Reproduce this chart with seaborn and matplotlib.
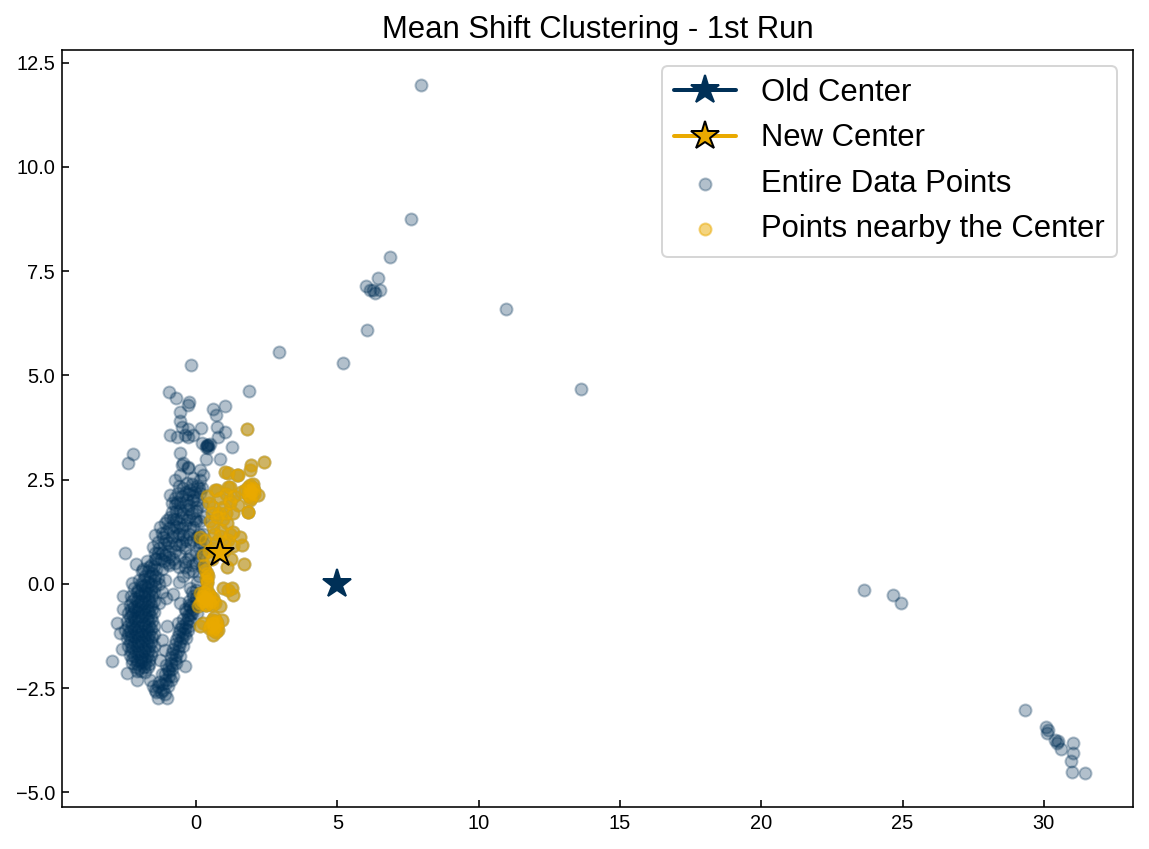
import numpy as np
import pandas as pd
import matplotlib
matplotlib.use("Agg")
import matplotlib.pyplot as plt
import seaborn as sns

NAVY = "#003057"
GOLD = "#EAAA00"

# centers
old_center = (5.0, 0.0)
new_center = (0.86, 0.73)

# far away points (dark)
far_points = [
    (7.96, 11.96), (7.6, 8.75), (6.86, 7.84), (6.44, 7.34), (6.01, 7.14), (6.15, 7.05),
    (6.33, 6.97), (6.51, 7.05), (6.26, 7.05), (6.05, 6.09), (10.97, 6.59), (13.62, 4.68),
    (2.94, 5.56), (5.2, 5.3), (-0.17, 5.25), (1.89, 4.63),
    (23.63, -0.14), (24.65, -0.26), (24.94, -0.46),
    (29.33, -3.02), (30.07, -3.43), (30.1, -3.57), (30.15, -3.5), (30.39, -3.74),
    (30.45, -3.81), (30.5, -3.76), (30.6, -3.96), (31.03, -3.81), (31.03, -4.05),
    (30.95, -4.24), (30.98, -4.51), (31.45, -4.53),
]

# sparse points above the cluster (dark)
upper_sparse = [
    (-0.96, 4.59), (-0.71, 4.45), (-0.24, 4.37), (-0.27, 4.29), (0.59, 4.2), (1.03, 4.27),
    (0.71, 4.05), (-0.55, 4.12), (-0.57, 3.91), (-0.49, 3.75), (-0.27, 3.72), (0.18, 3.74),
    (0.73, 3.77), (-0.92, 3.57), (-0.66, 3.52), (-0.39, 3.57), (-0.27, 3.52), (1.03, 3.64),
    (0.79, 3.52), (0.2, 3.37), (0.44, 3.32), (0.4, 3.3), (0.48, 3.35), (0.36, 3.28),
    (0.38, 3.33), (0.42, 3.27), (1.26, 3.28), (-2.24, 3.11), (-2.39, 2.89), (-0.57, 3.15),
    (0.85, 2.99), (0.35, 3.0), (-0.51, 2.85), (-0.27, 2.81), (-0.09, 3.57),
]

# upper stream (dark)
upper_stream = [
    (-1.51, 0.89), (-1.33, 0.74), (-1.45, 1.17), (-1.27, 1.37), (-1.16, 1.13), (-1.04, 1.53),
    (-0.86, 1.73), (-0.68, 1.97), (-0.92, 2.13), (-0.74, 2.49), (-0.86, 1.13), (-0.51, 1.33),
    (-1.33, 1.01), (-0.98, 0.98), (-0.57, 0.94), (-1.21, 1.22), (-0.45, 1.17), (-1.1, 1.45),
    (-0.68, 1.37), (-0.09, 1.37), (-0.92, 1.61), (-0.33, 1.53), (-0.57, 1.77), (0.02, 1.85),
    (-0.86, 1.93), (-0.33, 2.01), (0.14, 2.17), (-0.63, 2.17), (-0.21, 2.25), (-0.33, 2.41),
    (0.14, 2.49), (-0.46, 2.9), (-0.28, 2.78), (0.14, 2.73), (0.02, 1.13), (-1.4, 0.6),
    (-1.2, 0.75), (-1.0, 0.8), (-0.75, 0.8), (-0.4, 0.85), (-0.2, 1.0), (0.1, 0.9),
    (0.15, 1.5), (-0.15, 1.7), (-0.5, 1.6), (-0.7, 1.55), (-0.4, 1.9), (-0.1, 2.0),
    (0.2, 2.3), (-0.45, 2.3), (-0.1, 2.55), (0.25, 2.6), (0.05, 2.35), (-0.55, 2.6),
    (0.2, 1.9), (0.25, 1.2), (0.3, 1.6), (0.3, 0.95), (0.1, 0.6), (-0.25, 1.2),
    (-0.6, 1.2), (-0.8, 1.4), (-0.3, 1.8), (-0.05, 2.2), (-0.75, 2.05), (-1.05, 1.25),
]

# dense core of the upper stream (dark)
upper_core = [
    (-1.45, 0.75), (-1.3, 0.85), (-1.15, 0.95), (-1.25, 0.6), (-1.1, 0.7), (-0.95, 0.65),
    (-1.05, 1.05), (-0.9, 0.9), (-0.7, 0.95), (-0.95, 1.35), (-0.8, 1.25), (-0.65, 1.15),
    (-0.5, 1.0), (-0.35, 1.05), (-0.8, 1.55), (-0.6, 1.45), (-0.4, 1.4), (-0.2, 1.35),
    (-0.7, 1.75), (-0.45, 1.7), (-0.25, 1.6), (-0.05, 1.55), (-0.75, 1.9), (-0.55, 1.95),
    (-0.25, 1.9), (0.0, 1.75), (-0.5, 2.1), (-0.3, 2.15), (-0.1, 2.1), (0.05, 2.0),
    (-0.6, 2.35), (-0.35, 2.2), (-0.15, 2.4), (0.1, 2.3), (0.0, 1.5), (0.1, 1.2),
    (-0.1, 1.05), (0.15, 1.0), (0.2, 0.75), (0.0, 0.75), (-0.3, 0.6), (-0.55, 0.7),
    (-0.75, 0.5), (-1.0, 0.5), (-0.4, 0.4), (-0.15, 0.45), (0.1, 0.2), (0.2, 0.4), (0.05, 0.05),
]

# middle part between the bands (dark)
middle_part = [
    (-1.2, -0.2), (-1.05, -0.35), (-0.8, -0.25), (-1.3, 0.0), (-1.1, 0.1), (-0.6, 0.05),
    (-0.45, 0.2), (-0.27, 0.29), (-0.39, 0.53), (-0.6, 0.4), (-0.1, 0.3), (0.0, 0.5),
    (-0.2, 0.7), (-1.2, 0.35), (-0.95, 0.45), (-0.8, 0.6), (-1.3, -0.45), (-1.15, 0.55),
]

# main left band (dark)
left_band = [
    (-1.75, 0.55), (-1.6, 0.45), (-1.45, 0.6),
    (-1.9, 0.3), (-1.7, 0.3), (-1.55, 0.25), (-1.4, 0.35),
    (-2.0, 0.1), (-1.85, 0.12), (-1.7, 0.05), (-1.5, 0.1), (-1.35, 0.15),
    (-2.2, -0.1), (-2.05, -0.15), (-1.9, -0.05), (-1.75, -0.1), (-1.6, -0.12), (-1.45, -0.05),
    (-2.3, -0.3), (-2.15, -0.35), (-2.0, -0.3), (-1.85, -0.28), (-1.7, -0.32), (-1.55, -0.3),
    (-2.35, -0.5), (-2.2, -0.55), (-2.05, -0.5), (-1.9, -0.48), (-1.75, -0.52), (-1.6, -0.5),
    (-2.4, -0.7), (-2.25, -0.72), (-2.1, -0.68), (-1.95, -0.7), (-1.8, -0.73), (-1.65, -0.7), (-1.5, -0.68),
    (-2.45, -0.9), (-2.3, -0.92), (-2.15, -0.88), (-2.0, -0.9), (-1.85, -0.93), (-1.7, -0.9), (-1.55, -0.88),
    (-2.5, -1.1), (-2.35, -1.12), (-2.2, -1.08), (-2.05, -1.1), (-1.9, -1.13), (-1.75, -1.1), (-1.6, -1.08),
    (-2.45, -1.3), (-2.3, -1.32), (-2.15, -1.28), (-2.0, -1.3), (-1.85, -1.33), (-1.7, -1.3), (-1.55, -1.28),
    (-2.4, -1.5), (-2.25, -1.52), (-2.1, -1.48), (-1.95, -1.5), (-1.8, -1.53), (-1.65, -1.5), (-1.5, -1.5),
    (-2.35, -1.7), (-2.2, -1.72), (-2.05, -1.68), (-1.9, -1.7), (-1.75, -1.73), (-1.6, -1.7),
    (-2.25, -1.9), (-2.1, -1.92), (-1.95, -1.88), (-1.8, -1.9), (-1.65, -1.93),
    (-2.1, -2.1), (-1.95, -2.08), (-1.8, -2.12),
    (-2.51, 0.75), (-2.12, 0.48), (-1.86, 0.35), (-2.27, 0.02), (-2.57, -0.3), (-2.8, -0.94),
    (-2.69, -1.18), (-2.98, -1.84), (-2.45, -2.14), (-2.1, -2.3), (-2.62, -1.55), (-2.6, -0.6),
]

# dense core of the left band (dark)
left_core = [
    (-2.1, -0.2), (-1.95, -0.22), (-1.8, -0.2), (-1.65, -0.22), (-1.5, -0.2),
    (-2.25, -0.4), (-2.1, -0.42), (-1.95, -0.4), (-1.8, -0.4), (-1.65, -0.42), (-1.5, -0.4),
    (-2.3, -0.6), (-2.15, -0.62), (-2.0, -0.6), (-1.85, -0.6), (-1.7, -0.62), (-1.55, -0.6),
    (-2.35, -0.8), (-2.2, -0.82), (-2.05, -0.8), (-1.9, -0.8), (-1.75, -0.82), (-1.6, -0.8),
    (-2.4, -1.0), (-2.25, -1.02), (-2.1, -1.0), (-1.95, -1.0), (-1.8, -1.02), (-1.65, -1.0), (-1.5, -1.0),
    (-2.4, -1.2), (-2.25, -1.22), (-2.1, -1.2), (-1.95, -1.2), (-1.8, -1.22), (-1.65, -1.2), (-1.5, -1.2),
    (-2.35, -1.4), (-2.2, -1.42), (-2.05, -1.4), (-1.9, -1.4), (-1.75, -1.42), (-1.6, -1.4),
    (-2.3, -1.6), (-2.15, -1.62), (-2.0, -1.6), (-1.85, -1.6), (-1.7, -1.62), (-1.55, -1.6),
    (-2.25, -1.8), (-2.1, -1.82), (-1.95, -1.8), (-1.8, -1.8), (-1.65, -1.82),
    (-2.15, -2.0), (-2.0, -2.02), (-1.85, -2.0), (-1.7, -2.0),
    (-1.95, 0.0), (-1.8, -0.02), (-1.6, 0.0), (-1.8, 0.2), (-1.62, 0.18), (-1.45, 0.2),
    (-1.65, 0.4), (-1.5, 0.42),
]

# lower right band (dark)
right_band = [
    (-1.51, -2.46), (-1.33, -2.74), (-1.04, -2.74), (-1.16, -2.54), (-1.63, -2.3), (-1.3, -2.35),
    (-1.1, -2.3), (-0.9, -2.3), (-1.2, -2.15), (-0.95, -2.1), (-0.8, -2.22), (-1.05, -1.95),
    (-0.85, -1.95), (-0.7, -1.9), (-0.9, -1.75), (-0.7, -1.7), (-0.57, -1.74), (-0.8, -1.55),
    (-0.6, -1.5), (-0.45, -1.5), (-0.7, -1.35), (-0.5, -1.3), (-0.35, -1.3), (-0.6, -1.15),
    (-0.45, -1.18), (-0.3, -1.1), (-0.5, -1.0), (-0.35, -0.95), (-0.2, -0.9), (-0.63, -0.94),
    (-1.04, -1.02), (-1.21, -1.34), (-1.1, -1.58), (-1.27, -1.82), (-0.39, -1.98), (-0.3, -0.75),
    (-0.15, -0.7), (-0.4, -0.6), (-0.2, -0.55), (-0.05, -0.5), (-0.57, -0.46), (-0.25, -0.4),
    (-0.1, -0.3), (-0.21, -0.1), (0.0, -0.15), (0.05, -0.7), (-1.4, -2.6), (-1.0, -2.45),
]

# dense core of the lower right band (dark)
right_core = [
    (-1.45, -2.55), (-1.25, -2.6), (-1.1, -2.65), (-1.35, -2.45), (-1.2, -2.4), (-1.05, -2.38),
    (-0.95, -2.2), (-1.1, -2.15), (-0.85, -2.05), (-1.0, -2.05), (-0.9, -1.9), (-0.75, -1.8),
    (-0.85, -1.65), (-0.65, -1.6), (-0.75, -1.45), (-0.55, -1.4), (-0.65, -1.25), (-0.4, -1.2),
    (-0.55, -1.08), (-0.4, -1.05), (-0.25, -1.0), (-0.45, -0.85), (-0.3, -0.85), (-0.2, -0.75),
    (-0.35, -0.65), (-0.1, -0.6), (-0.25, -0.5), (-0.1, -0.45), (0.0, -0.35), (-0.15, -0.2),
]

# points nearby the new center (gold)
near_points = [
    (1.79, 3.71), (1.03, 2.69), (1.44, 2.61), (1.93, 2.85), (2.42, 2.93), (1.14, 2.33),
    (1.91, 2.37), (1.95, 2.2), (2.05, 2.15), (1.88, 2.1), (2.2, 2.13), (1.84, 2.33),
    (0.67, 2.25), (1.85, 1.72), (1.2, 2.0), (1.14, 2.65), (1.5, 2.61), (1.91, 2.73),
    (1.2, 2.33), (0.73, 2.25), (0.85, 2.05), (0.61, 1.85), (0.97, 1.85), (1.2, 1.93),
    (1.32, 1.69), (1.85, 1.73), (0.73, 1.61), (1.08, 1.46), (0.61, 1.37), (1.32, 1.25),
    (1.56, 1.13), (1.14, 1.05), (0.14, 1.13), (0.32, 1.05), (0.26, 0.7), (1.7, 0.47),
    (0.32, 0.34), (0.44, 0.18), (0.38, 0.02), (1.08, 0.41), (0.97, -0.1), (1.26, -0.1),
    (1.62, 0.94), (0.38, 0.26), (0.38, 0.06), (1.14, -0.14), (1.32, -0.26), (0.14, -0.22),
    (0.3, -0.35), (0.45, -0.4), (0.6, -0.42), (0.67, -0.46), (0.5, -0.3), (0.85, -0.54),
    (0.08, -0.54), (0.55, -0.86), (0.73, -0.94), (0.14, -1.02), (0.61, -1.22), (0.79, -1.1),
    (0.91, -0.86), (0.5, 1.5), (0.9, 1.3), (0.45, 1.95), (0.7, 1.0), (1.0, 0.8),
    (1.3, 0.9), (0.55, 0.6), (0.2, -0.4), (0.35, -0.5), (0.25, -0.95), (0.45, -1.05),
    (0.6, -0.95), (0.7, -1.15), (0.4, -0.15), (0.25, -0.3), (0.55, -0.5), (0.15, -0.45),
    (0.5, -1.0), (0.65, -0.8), (1.75, 2.25), (2.0, 2.4), (1.9, 2.0), (1.05, 2.15),
    (0.3, -0.42), (0.4, -0.35), (0.5, -0.45), (0.6, -0.35), (0.35, -0.5), (0.2, -0.3),
    (0.45, -0.25), (0.55, -0.95), (0.65, -1.05), (0.7, -0.9), (0.6, -1.1), (0.75, -1.0),
    (1.9, 2.25), (2.0, 2.3), (1.85, 2.15), (1.95, 2.05), (2.05, 2.25), (0.3, -0.2),
    (0.35, 0.15), (0.3, 0.45), (0.8, 1.7), (0.95, 1.55), (1.05, 1.7), (0.55, 1.7),
    (0.65, 1.2), (0.85, 1.15), (1.0, 1.0), (1.2, 1.2), (0.45, 0.8), (0.6, 0.85),
    (1.25, 0.6), (0.4, 2.1), (1.35, 2.1), (1.5, 1.9), (1.6, 2.2),
]

dark_all = (far_points + upper_sparse + upper_stream + upper_core + middle_part
            + left_band + left_core + right_band + right_core)
all_points = dark_all + near_points
df_all = pd.DataFrame(all_points, columns=["x", "y"])
df_near = pd.DataFrame(near_points, columns=["x", "y"])

sns.set_style("ticks", {"xtick.direction": "in", "ytick.direction": "in"})
plt.rcParams["font.family"] = ["Liberation Sans", "DejaVu Sans"]
plt.rcParams["text.color"] = "black"
plt.rcParams["xtick.color"] = "black"
plt.rcParams["ytick.color"] = "black"

fig = plt.figure(figsize=(1149 / 144, 849 / 144), dpi=144)
ax = fig.add_axes([0.054, 0.0495, 0.932, 0.8915])

ax.plot(old_center[0], old_center[1], marker="*", markersize=15, color=NAVY, lw=2,
        label="Old Center", zorder=10)
ax.plot(new_center[0], new_center[1], marker="*", markersize=15, color=GOLD, lw=2,
        markeredgecolor="black", label="New Center", zorder=10)

sns.scatterplot(data=df_all, x="x", y="y", ax=ax, color=NAVY, alpha=0.3, s=36,
                edgecolor=NAVY, linewidth=1.0, label="Entire Data Points")
sns.scatterplot(data=df_near, x="x", y="y", ax=ax, color=GOLD, alpha=0.5, s=36,
                edgecolor=GOLD, linewidth=1.0, label="Points nearby the Center")

ax.set_xlim(-4.74, 33.15)
ax.set_ylim(-5.35, 12.8)
ax.set_xlabel("")
ax.set_ylabel("")
ax.set_title("Mean Shift Clustering - 1st Run", fontsize=15.5, color="black")
ax.tick_params(labelsize=10, direction="in", length=3.5, colors="black")
for sp in ax.spines.values():
    sp.set_color("black")
ax.legend(loc="upper right", fontsize=15.5)

fig.savefig("out.png", dpi=144)
